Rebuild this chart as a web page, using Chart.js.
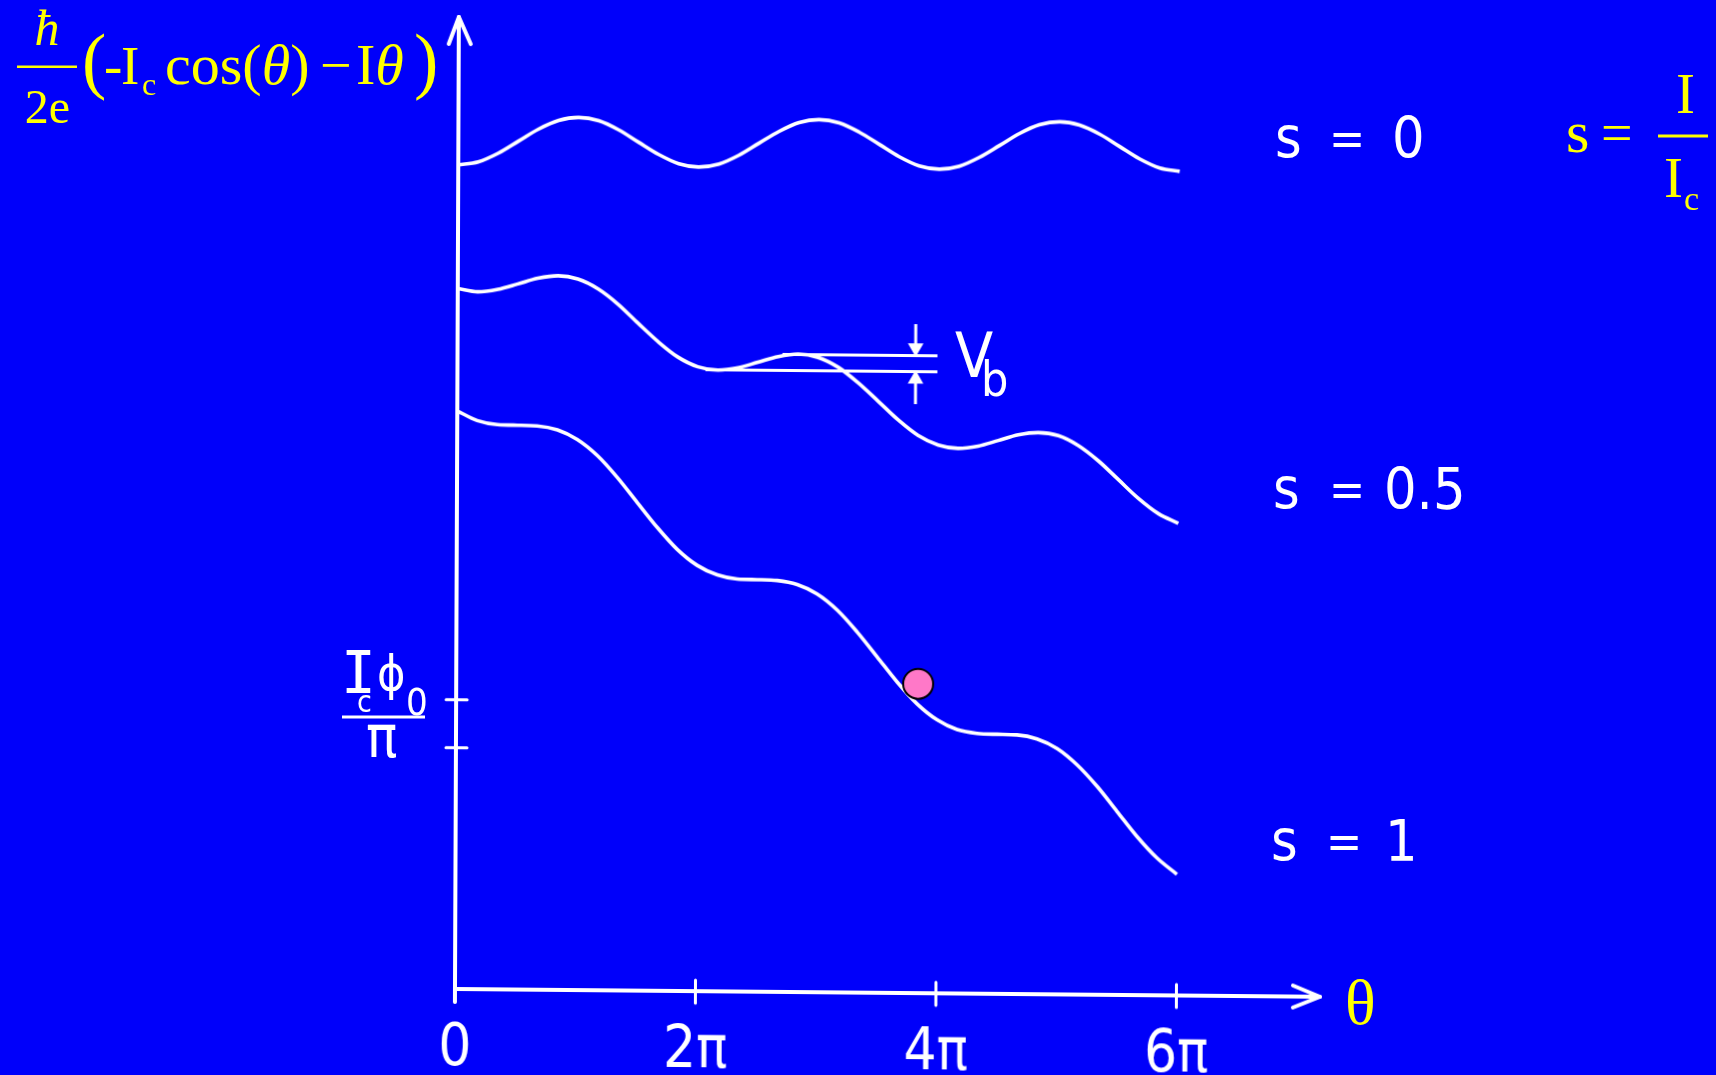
<!DOCTYPE html>
<html>
<head>
<meta charset="utf-8">
<script src="https://cdn.jsdelivr.net/npm/chart.js@4.4.1/dist/chart.umd.min.js"></script>
<style>
  html, body { margin:0; padding:0; background:#0000fa; overflow:hidden; }
  #wrap { position:absolute; left:0; top:0; width:1716px; height:1075px; }
  #c { position:absolute; left:0; top:0; width:1716px; height:1075px;
       transform-origin:455px 989px; transform:matrix(1,0.009,-0.004,1,0,0); }
  #ov { position:absolute; left:0; top:0; }
  .y { fill:#ffff00; font-family:"Liberation Serif","Times New Roman",serif; }
  .w { fill:#ffffff; font-family:"Liberation Sans Narrow","DejaVu Sans Condensed","Liberation Sans",sans-serif; }
</style>
</head>
<body>
<div id="wrap">
<canvas id="c" width="1716" height="1075"></canvas>
<svg id="ov" width="1716" height="1075" xmlns="http://www.w3.org/2000/svg">
  <!-- top-left formula -->
  <text class="y" x="47" y="45" font-size="50" font-style="italic" text-anchor="middle">ħ</text>
  <rect x="17" y="65.5" width="60" height="2.5" fill="#ffff00"/>
  <text class="y" x="47.5" y="123" font-size="48" text-anchor="middle">2e</text>
  <text class="y" x="82" y="85" font-size="73">(</text>
  <text class="y" x="104" y="84" font-size="55">-</text>
  <text class="y" x="121" y="84" font-size="55">I</text>
  <text class="y" x="142" y="95" font-size="32">c</text>
  <text class="y" x="165" y="84" font-size="58">cos(<tspan font-style="italic">θ</tspan>)</text>
  <text class="y" x="320" y="84" font-size="56">−</text>
  <text class="y" x="356" y="84" font-size="58">I<tspan font-style="italic">θ</tspan></text>
  <text class="y" x="414" y="85" font-size="73">)</text>
  <!-- top-right s = I / Ic -->
  <text class="y" x="1566" y="152" font-size="60">s</text>
  <text class="y" x="1601" y="152" font-size="56">=</text>
  <rect x="1658" y="134.5" width="50" height="3" fill="#ffff00"/>
  <text class="y" x="1676" y="113" font-size="57">I</text>
  <text class="y" x="1664" y="197" font-size="57">I</text>
  <text class="y" x="1684" y="210" font-size="34">c</text>
  <!-- theta axis title -->
  <text class="y" x="1345" y="1024" font-size="64">θ</text>
  <!-- curve labels -->
  <text class="w" x="1275" y="157" font-size="57">s</text>
  <text class="w" x="1329" y="155" font-size="48">=</text>
  <text class="w" x="1392" y="158" font-size="57">0</text>
  <text class="w" x="1273" y="508" font-size="57">s</text>
  <text class="w" x="1329" y="506" font-size="48">=</text>
  <text class="w" x="1384" y="509" font-size="57">0.5</text>
  <text class="w" x="1271" y="860" font-size="57">s</text>
  <text class="w" x="1326" y="858" font-size="48">=</text>
  <text class="w" x="1385" y="861" font-size="57">1</text>
  <!-- Ic phi0 / pi -->
  <text class="w" x="341" y="693" font-size="58" style="font-family:'DejaVu Sans Mono',monospace">I</text>
  <text class="w" x="357" y="712" font-size="30">c</text>
  <text class="w" x="377" y="690" font-size="48">ϕ</text>
  <text class="w" x="406" y="715" font-size="38">0</text>
  <rect x="342" y="715.5" width="83" height="3" fill="#ffffff"/>
  <text class="w" x="366" y="757" font-size="58">π</text>
  <!-- Vb -->
  <text class="w" x="955" y="377" font-size="62">V</text>
  <text class="w" x="981" y="396" font-size="48">b</text>
</svg>
</div>
<script>
// ---- data ----
const theta = [0,0.52,1.05,1.57,2.09,2.62,3.14,3.67,4.19,4.71,5.24,5.76,6.28,6.81,7.33,7.85,8.38,8.90,9.42,9.95,10.47,11.00,11.52,12.04,12.57,13.09,13.61,14.14,14.66,15.18,15.71,16.23,16.76,17.28,17.80,18.33,18.85];
const s0Values = [34.00,34.13,34.50,35.00,35.50,35.87,36.00,35.87,35.50,35.00,34.50,34.13,34.00,34.13,34.50,35.00,35.50,35.87,36.00,35.87,35.50,35.00,34.50,34.13,34.00,34.13,34.50,35.00,35.50,35.87,36.00,35.87,35.50,35.00,34.50,34.13,34.00];
const s05Values = [28.90,28.77,28.88,29.11,29.35,29.46,29.33,28.93,28.31,27.54,26.78,26.15,25.76,25.63,25.73,25.97,26.21,26.32,26.19,25.79,25.16,24.40,23.64,23.01,22.62,22.49,22.59,22.83,23.07,23.17,23.05,22.65,22.02,21.26,20.50,19.87,19.48];
const s1Values = [23.85,23.46,23.30,23.28,23.26,23.10,22.71,22.05,21.16,20.14,19.11,18.22,17.57,17.18,17.02,17.00,16.97,16.81,16.43,15.77,14.88,13.85,12.83,11.94,11.28,10.89,10.74,10.71,10.69,10.53,10.14,9.48,8.59,7.57,6.55,5.66,5.00];
const xTickValues = [0, 6.283, 12.566, 18.85];
const xTickLabels = ['0', '2π', '4π', '6π'];
const yTickValues = [9.95, 11.93];
const vbLowerX = [6.48, 12.54];
const vbLowerY = [25.64, 25.64];
const vbUpperX = [8.49, 12.54];
const vbUpperY = [26.30, 26.30];
const vbArrowX = 11.97;
const vbArrowUpperY = [27.60, 26.62];
const vbArrowLowerY = [24.30, 25.33];
const markerX = [12.07];
const markerY = [12.76];
const X_MAX = 22.6;
const Y_MAX = 40.1;

const pts = (xs, ys) => xs.map((v, i) => ({x: v, y: ys[i]}));
const WHITE = '#ffffff';

const curve = (label, ys) => ({
  label, data: pts(theta, ys), borderColor: WHITE, borderWidth: 3.6,
  pointRadius: 0, fill: false, cubicInterpolationMode: 'monotone'
});
const seg = (label, xs, ys, w) => ({
  label, data: pts(xs, ys), borderColor: WHITE, borderWidth: w,
  pointRadius: 0, fill: false, tension: 0
});

const axesPlugin = {
  id: 'axesArrows',
  beforeDatasetsDraw(chart) {
    const {ctx, scales: {x, y}} = chart;
    const x0 = x.getPixelForValue(0), y0 = y.getPixelForValue(0);
    const xEnd = x.getPixelForValue(X_MAX), yTop = y.getPixelForValue(Y_MAX);
    ctx.save();
    ctx.strokeStyle = WHITE; ctx.lineWidth = 4; ctx.lineCap = 'round'; ctx.lineJoin = 'round';
    const line = (a, b, c, d) => { ctx.beginPath(); ctx.moveTo(a, b); ctx.lineTo(c, d); ctx.stroke(); };
    line(x0, y0 + 13, x0, yTop);
    ctx.beginPath(); ctx.moveTo(x0 - 10, yTop + 27); ctx.lineTo(x0, yTop); ctx.lineTo(x0 + 12, yTop + 27); ctx.stroke();
    line(x0, y0, xEnd, y0);
    ctx.beginPath(); ctx.moveTo(xEnd - 27, y0 - 11); ctx.lineTo(xEnd, y0); ctx.lineTo(xEnd - 27, y0 + 11); ctx.stroke();
    ctx.lineWidth = 3;
    xTickValues.slice(1).forEach(v => { const px = x.getPixelForValue(v); line(px, y0 - 11, px, y0 + 12); });
    yTickValues.forEach(v => { const py = y.getPixelForValue(v); line(x0 - 10, py, x0 + 11, py); });
    ctx.restore();
  }
};

new Chart(document.getElementById('c'), {
  type: 'line',
  data: {
    datasets: [
      { label: 'marker', data: pts(markerX, markerY), showLine: false, pointRadius: 15,
        pointHoverRadius: 15, backgroundColor: '#ff78c8', borderColor: '#000000', borderWidth: 2 },
      curve('s = 0', s0Values),
      curve('s = 0.5', s05Values),
      curve('s = 1', s1Values),
      seg('Vb lower', vbLowerX, vbLowerY, 3),
      seg('Vb upper', vbUpperX, vbUpperY, 3),
      { label: 'Vb arrow up', data: pts([vbArrowX, vbArrowX], vbArrowUpperY), borderColor: WHITE, borderWidth: 3,
        backgroundColor: WHITE, pointStyle: 'triangle', pointRadius: [0, 6], rotation: 180, fill: false },
      { label: 'Vb arrow low', data: pts([vbArrowX, vbArrowX], vbArrowLowerY), borderColor: WHITE, borderWidth: 3,
        backgroundColor: WHITE, pointStyle: 'triangle', pointRadius: [0, 6], rotation: 0, fill: false }
    ]
  },
  options: {
    responsive: false, animation: false, devicePixelRatio: 1,
    layout: { padding: { left: 455, right: 396, top: 15, bottom: 0 } },
    plugins: { legend: { display: false }, tooltip: { enabled: false } },
    events: [],
    scales: {
      x: {
        type: 'linear', min: 0, max: X_MAX,
        grid: { display: false, drawTicks: false }, border: { display: false },
        afterBuildTicks: s => { s.ticks = xTickValues.map(v => ({ value: v })); },
        afterFit: s => { s.height = 86; },
        ticks: {
          autoSkip: false, maxRotation: 0, color: WHITE, padding: 26,
          font: { family: "'Liberation Sans Narrow','DejaVu Sans Condensed','Liberation Sans',sans-serif", size: 58 },
          callback: (v, i) => xTickLabels[i]
        }
      },
      y: { type: 'linear', display: false, min: 0, max: Y_MAX }
    }
  },
  plugins: [axesPlugin]
});
</script>
</body>
</html>
